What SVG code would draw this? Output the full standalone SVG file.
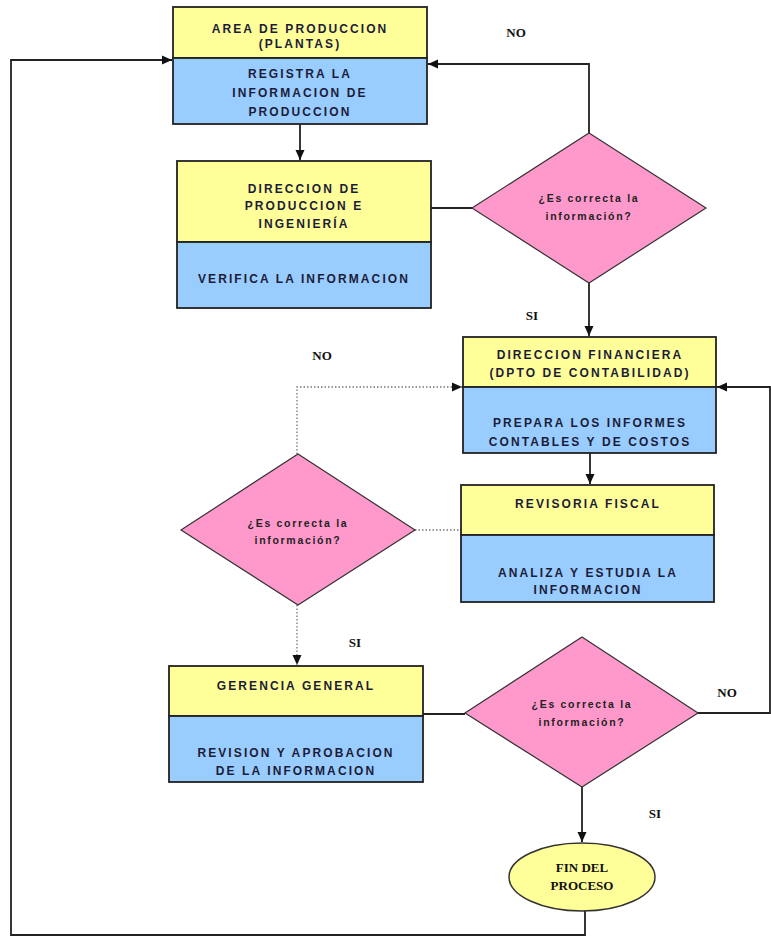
<svg xmlns="http://www.w3.org/2000/svg" width="771" height="937" viewBox="0 0 771 937">
<style>
.y{fill:#FFFF99;stroke:#222;stroke-width:1.8}
.b{fill:#99CCFF;stroke:#222;stroke-width:1.8}
.d{fill:#FF99CC;stroke:#333;stroke-width:1.2}
.e{fill:#FFFF99;stroke:#333;stroke-width:1.5}
.t{font-family:"Liberation Sans",Arial,sans-serif;font-size:12px;font-weight:bold;letter-spacing:2.1px;fill:#1c1c38;text-anchor:middle}
.q{font-family:"Liberation Sans",Arial,sans-serif;font-size:10.5px;font-weight:bold;letter-spacing:1.7px;fill:#222;text-anchor:middle}
.l{font-family:"Liberation Serif","Times New Roman",serif;font-size:13px;font-weight:bold;fill:#111;text-anchor:middle}
.c{fill:none;stroke:#222;stroke-width:1.8}
.dt{fill:none;stroke:#777;stroke-width:1.3;stroke-dasharray:1.5 2}
</style>
<defs>
<marker id="ah" markerUnits="userSpaceOnUse" markerWidth="10" markerHeight="10" viewBox="0 0 10 10" refX="10" refY="5" orient="auto">
<path d="M0,0.5 L10,5 L0,9.5 Z" fill="#111"/>
</marker>
</defs>

<g id="connectors">
<path class="c" d="M585,911 V935 H11 V60 H172" marker-end="url(#ah)"/>
<path class="c" d="M300,124 V160" marker-end="url(#ah)"/>
<path class="c" d="M431,208 H472"/>
<path class="c" d="M589,133 V64 H428" marker-end="url(#ah)"/>
<path class="c" d="M589,282 V336" marker-end="url(#ah)"/>
<path class="c" d="M590,453 V484" marker-end="url(#ah)"/>
<path class="dt" d="M415,530 H461"/>
<path class="dt" d="M297,454 V387 H462" marker-end="url(#ah)"/>
<path class="dt" d="M297,605 V665" marker-end="url(#ah)"/>
<path class="c" d="M423,714 H465"/>
<path class="c" d="M698,713 H770 V387 H717" marker-end="url(#ah)"/>
<path class="c" d="M582,787 V842" marker-end="url(#ah)"/>
</g>

<g id="area-produccion">
<rect class="y" x="173" y="7" width="254" height="51"/>
<rect class="b" x="173" y="58" width="254" height="66"/>
<text class="t" x="300" y="33">AREA DE PRODUCCION</text>
<text class="t" x="300" y="48">(PLANTAS)</text>
<text class="t" x="300" y="78">REGISTRA LA</text>
<text class="t" x="300" y="97">INFORMACION DE</text>
<text class="t" x="300" y="116">PRODUCCION</text>
</g>

<g id="direccion-produccion">
<rect class="y" x="177" y="161" width="254" height="81"/>
<rect class="b" x="177" y="242" width="254" height="66"/>
<text class="t" x="304" y="193">DIRECCION DE</text>
<text class="t" x="304" y="210">PRODUCCION E</text>
<text class="t" x="304" y="228">INGENIERÍA</text>
<text class="t" x="304" y="283">VERIFICA LA INFORMACION</text>
</g>

<g id="decision-1">
<polygon class="d" points="589,133 706,208 589,283 472,208"/>
<text class="q" x="589" y="202">¿Es correcta la</text>
<text class="q" x="589" y="220">información?</text>
</g>

<g id="direccion-financiera">
<rect class="y" x="463" y="337" width="253" height="50"/>
<rect class="b" x="463" y="387" width="253" height="66"/>
<text class="t" x="590" y="359">DIRECCION FINANCIERA</text>
<text class="t" x="590" y="377">(DPTO DE CONTABILIDAD)</text>
<text class="t" x="590" y="427">PREPARA LOS INFORMES</text>
<text class="t" x="590" y="446">CONTABLES Y DE COSTOS</text>
</g>

<g id="revisoria-fiscal">
<rect class="y" x="461" y="485" width="253" height="50"/>
<rect class="b" x="461" y="535" width="253" height="67"/>
<text class="t" x="588" y="508">REVISORIA FISCAL</text>
<text class="t" x="588" y="577">ANALIZA Y ESTUDIA LA</text>
<text class="t" x="588" y="594">INFORMACION</text>
</g>

<g id="decision-2">
<polygon class="d" points="298,454 415,530 298,605 181,530"/>
<text class="q" x="298" y="527">¿Es correcta la</text>
<text class="q" x="298" y="544">información?</text>
</g>

<g id="gerencia-general">
<rect class="y" x="169" y="666" width="254" height="50"/>
<rect class="b" x="169" y="716" width="254" height="66"/>
<text class="t" x="296" y="690">GERENCIA GENERAL</text>
<text class="t" x="296" y="757">REVISION Y APROBACION</text>
<text class="t" x="296" y="775">DE LA INFORMACION</text>
</g>

<g id="decision-3">
<polygon class="d" points="582,637 698,713 582,787 465,713"/>
<text class="q" x="582" y="708">¿Es correcta la</text>
<text class="q" x="582" y="726">información?</text>
</g>

<g id="fin-proceso">
<ellipse class="e" cx="582" cy="877" rx="73" ry="34"/>
<text class="l" x="582" y="872">FIN DEL</text>
<text class="l" x="582" y="890">PROCESO</text>
</g>

<g id="labels">
<text class="l" x="516" y="37">NO</text>
<text class="l" x="532" y="320">SI</text>
<text class="l" x="322" y="360">NO</text>
<text class="l" x="355" y="647">SI</text>
<text class="l" x="727" y="697">NO</text>
<text class="l" x="655" y="818">SI</text>
</g>
</svg>
